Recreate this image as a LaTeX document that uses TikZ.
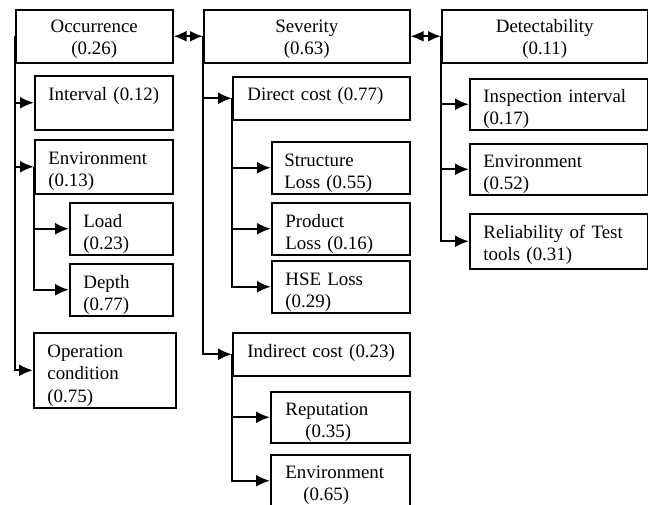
\documentclass[tikz,border=0pt]{standalone}
\usepackage{fontspec}
\setmainfont{Liberation Serif}
\usetikzlibrary{arrows.meta,calc}

\begin{document}
\begin{tikzpicture}[
x=0.5pt,
y=-0.5pt,
box/.style={
  draw,
  rectangle,
  line width=0.75pt,
  anchor=north west,
  inner sep=0pt
  },
lbl/.style={
  anchor=base west,
  inner sep=0pt,
  align=left,
  text width=90pt,
  font=\fontsize{9.45}{11.25}\selectfont
  },
head/.style={
  lbl,
  anchor=base,
  align=center
  },
link/.style={
  line width=1.1pt,
  -{Latex[length=7pt,width=6pt]}
  },
>={Latex[length=6.5pt,width=5.5pt]}
]
\useasboundingbox (0,0) rectangle (648,504);

% top row
\node[box, minimum width=78.5pt, minimum height=26.5pt] (occ) at (15,9) {};
\node[box, minimum width=103pt, minimum height=26.5pt] (sev) at (203,9) {};
\node[box, minimum width=103pt, minimum height=26.5pt] (det) at (441,9) {};

% occurrence branch
\node[box, minimum width=69pt, minimum height=27pt] (interval) at (34,75) {};
\node[box, minimum width=69pt, minimum height=27pt] (envo) at (34,139) {};
\node[box, minimum width=51.5pt, minimum height=26pt] (load) at (69,202) {};
\node[box, minimum width=51.5pt, minimum height=26pt] (depth) at (69,263) {};
\node[box, minimum width=71pt, minimum height=37.5pt] (opcond) at (33,332) {};

% severity branch
\node[box, minimum width=88.5pt, minimum height=21.5pt] (direct) at (232,76) {};
\node[box, minimum width=69pt, minimum height=26pt] (struct) at (271,141) {};
\node[box, minimum width=69pt, minimum height=26pt] (product) at (271,202) {};
\node[box, minimum width=69pt, minimum height=26pt] (hse) at (271,260) {};
\node[box, minimum width=88.5pt, minimum height=21.5pt] (indirect) at (232,332) {};
\node[box, minimum width=69.5pt, minimum height=25.5pt] (reput) at (270,391) {};
\node[box, minimum width=69.5pt, minimum height=26pt] (envi) at (270,454) {};

% detectability branch
\node[box, minimum width=89pt, minimum height=25.5pt] (inspect) at (469,78) {};
\node[box, minimum width=89pt, minimum height=25.5pt] (envd) at (469,143) {};
\node[box, minimum width=89pt, minimum height=27.5pt] (reliab) at (469,213) {};

% texts
\node[head] (occ-t) at ([shift={(0pt,-11.5pt)}]occ.north) {Occurrence\\(0.26)};
\node[head] (sev-t) at ([shift={(0pt,-11.5pt)}]sev.north) {Severity\\(0.63)};
\node[head] (det-t) at ([shift={(0pt,-11.5pt)}]det.north) {Detectability\\(0.11)};
\node[lbl] (interval-t) at ([shift={(7pt,-12.5pt)}]interval.north west) {Interval (0.12)};
\node[lbl] (envo-t) at ([shift={(7pt,-12.5pt)}]envo.north west) {Environment\\(0.13)};
\node[lbl] (load-t) at ([shift={(7pt,-12.5pt)}]load.north west) {Load\\(0.23)};
\node[lbl] (depth-t) at ([shift={(7pt,-12.5pt)}]depth.north west) {Depth\\(0.77)};
\node[lbl] (opcond-t) at ([shift={(7pt,-12.5pt)}]opcond.north west) {Operation\\condition\\(0.75)};
\node[lbl] (direct-t) at ([shift={(7.5pt,-12pt)}]direct.north west) {Direct cost (0.77)};
\node[lbl] (struct-t) at ([shift={(6.5pt,-12.5pt)}]struct.north west) {Structure\\Loss (0.55)};
\node[lbl] (product-t) at ([shift={(7pt,-12.5pt)}]product.north west) {Product\\Loss (0.16)};
\node[lbl] (hse-t) at ([shift={(7pt,-12.5pt)}]hse.north west) {HSE Loss\\(0.29)};
\node[lbl] (indirect-t) at ([shift={(7.5pt,-12.5pt)}]indirect.north west) {Indirect cost (0.23)};
\node[lbl] (reput-t) at ([shift={(7.5pt,-12pt)}]reput.north west) {Reputation\\\hspace*{10pt}(0.35)};
\node[lbl] (envi-t) at ([shift={(7.5pt,-12pt)}]envi.north west) {Environment\\\hspace*{9pt}(0.65)};
\node[lbl] (inspect-t) at ([shift={(7pt,-12pt)}]inspect.north west) {Inspection interval\\(0.17)};
\node[lbl] (envd-t) at ([shift={(7pt,-12pt)}]envd.north west) {Environment\\(0.52)};
\node[lbl] (reliab-t) at ([shift={(7pt,-12.5pt)}]reliab.north west) {Reliability of Test\\tools (0.31)};

% links between the top boxes
\draw[<->, line width=1.1pt] (occ.east) -- (sev.west);
\draw[<->, line width=1.1pt] (sev.east) -- (det.west);

% occurrence tree
\draw[link] (occ.west) |- (opcond.west);
\foreach \c in {interval,envo}
  \draw[link] (occ.west |- \c.west) -- (\c.west);
\draw[link] (envo.west) |- (depth.west);
\draw[link] (envo.west |- load.west) -- (load.west);

% severity tree
\draw[link] (sev.west) |- (indirect.west);
\draw[link] (sev.west |- direct.west) -- (direct.west);
\draw[link] (direct.west) |- (hse.west);
\foreach \c in {struct,product}
  \draw[link] (direct.west |- \c.west) -- (\c.west);
\draw[link] (indirect.west) |- (envi.west);
\draw[link] (indirect.west |- reput.west) -- (reput.west);

% detectability tree
\draw[link] (det.west) |- (reliab.west);
\foreach \c in {inspect,envd}
  \draw[link] (det.west |- \c.west) -- (\c.west);

\end{tikzpicture}
\end{document}
